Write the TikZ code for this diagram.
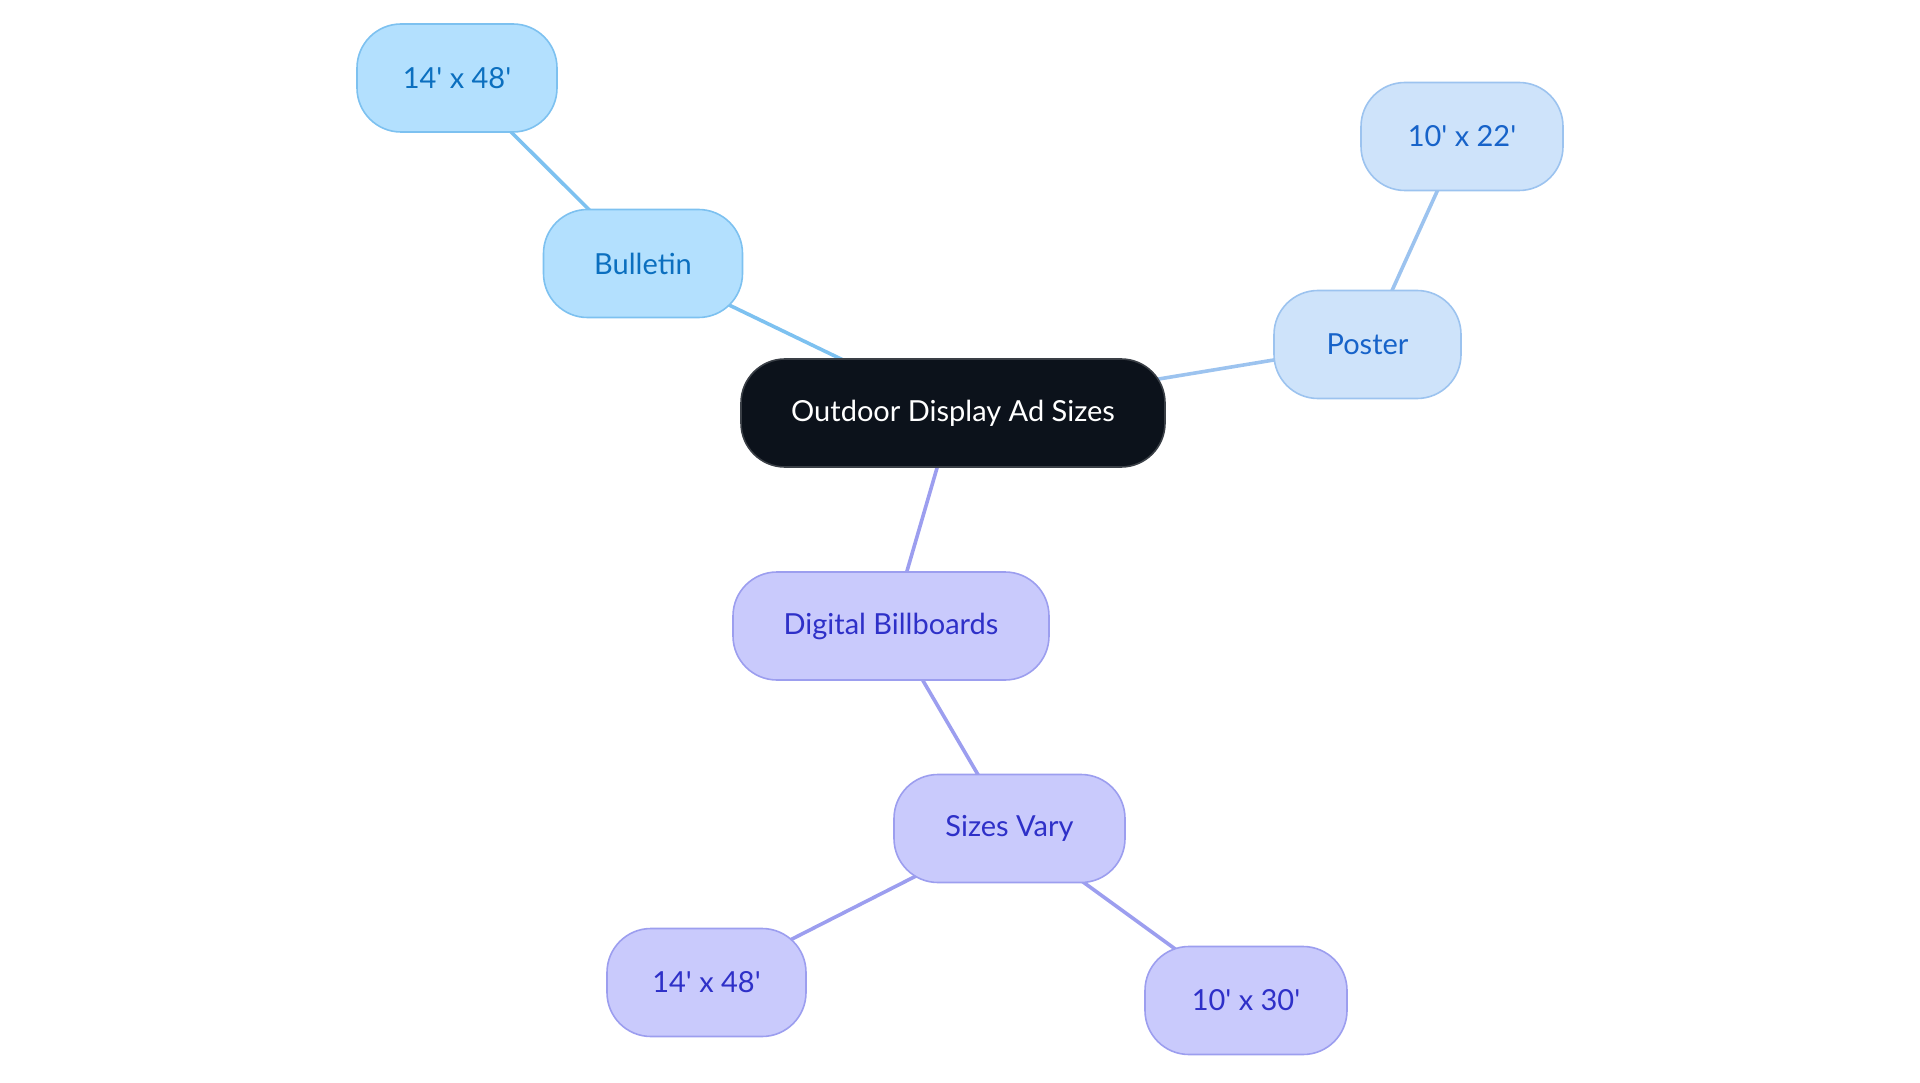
\documentclass[tikz,border=0pt]{standalone}
\usepackage{fontspec}
\setmainfont{Lato}
\usetikzlibrary{backgrounds}
\definecolor{rootfill}{HTML}{0C121B}
\definecolor{rootdraw}{HTML}{3A3F46}
\definecolor{bfill}{HTML}{B3E0FE}
\definecolor{bdraw}{HTML}{7DC1F0}
\definecolor{btext}{HTML}{0B6FBF}
\definecolor{pfill}{HTML}{CEE3FA}
\definecolor{pdraw}{HTML}{9CC3EF}
\definecolor{ptext}{HTML}{1763C9}
\definecolor{dfill}{HTML}{C9CAFC}
\definecolor{ddraw}{HTML}{9C9EEF}
\definecolor{dtext}{HTML}{2E30C8}
\newcommand{\ft}{\textquotesingle}
\tikzset{
  box/.style={rectangle, rounded corners=44pt, minimum height=108pt, inner sep=0pt, line width=1.6pt, font=\fontsize{29}{34}\selectfont},
  rootbox/.style={box, fill=rootfill, draw=rootdraw, text=white},
  bbox/.style={box, fill=bfill, draw=bdraw, text=btext},
  pbox/.style={box, fill=pfill, draw=pdraw, text=ptext},
  dbox/.style={box, fill=dfill, draw=ddraw, text=dtext},
  link/.style={line width=3.6pt}
}
\begin{document}
\begin{tikzpicture}[x=1pt,y=-1pt]
\useasboundingbox (0,0) rectangle (1920,1083);
\node[rootbox, minimum width=424pt] (root) at (953,413) {Outdoor Display Ad Sizes};
\node[bbox, minimum width=199pt] (bul) at (643,263.5) {Bulletin};
\node[bbox, minimum width=200pt] (b1) at (457,78) {14\ft{} x 48\ft};
\node[pbox, minimum width=187pt] (pos) at (1367.5,344.5) {Poster};
\node[pbox, minimum width=202pt] (p1) at (1462,136.5) {10\ft{} x 22\ft};
\node[dbox, minimum width=316pt] (dig) at (891,626) {Digital Billboards};
\node[dbox, minimum width=231pt] (siz) at (1009.5,828.5) {Sizes Vary};
\node[dbox, minimum width=199pt] (d1) at (706.5,982.5) {14\ft{} x 48\ft};
\node[dbox, minimum width=202pt] (d2) at (1246,1000.5) {10\ft{} x 30\ft};
\begin{scope}[on background layer]
\draw[link, draw=bdraw] (root.center) -- (bul.center);
\draw[link, draw=bdraw] (bul.center) -- (b1.center);
\draw[link, draw=pdraw] (root.center) -- (pos.center);
\draw[link, draw=pdraw] (pos.center) -- (p1.center);
\draw[link, draw=ddraw] (root.center) -- (dig.center);
\draw[link, draw=ddraw] (dig.center) -- (siz.center);
\draw[link, draw=ddraw] (siz.center) -- (d1.center);
\draw[link, draw=ddraw] (siz.center) -- (d2.center);
\end{scope}
\end{tikzpicture}
\end{document}
